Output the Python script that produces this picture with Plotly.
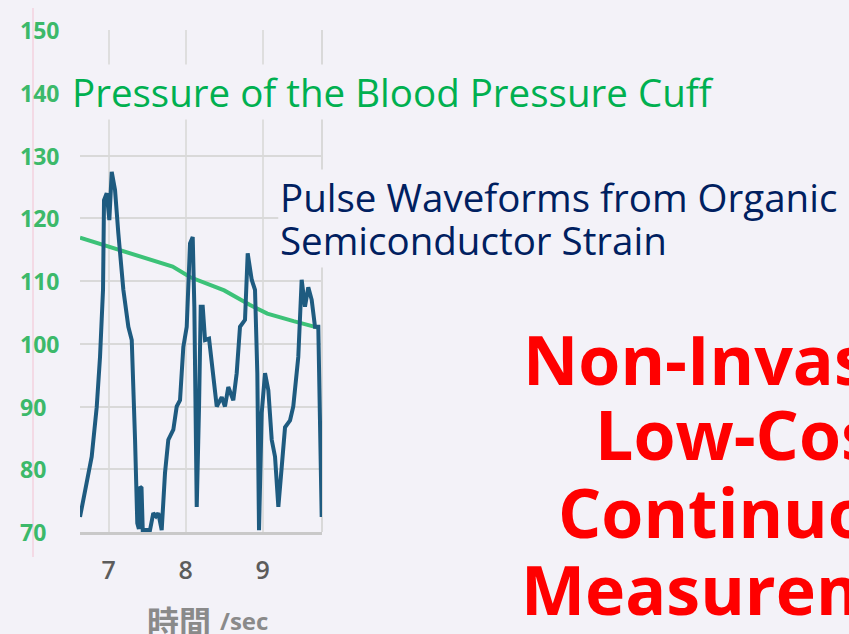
import plotly.graph_objects as go

# ---------------- data ----------------
t_pulse = [6.627, 6.714, 6.779, 6.844, 6.887, 6.926, 6.939, 6.974, 7.008, 7.039,
           7.082, 7.125, 7.190, 7.255, 7.299, 7.342, 7.371, 7.392, 7.406, 7.426,
           7.442, 7.536, 7.579, 7.614, 7.644, 7.688, 7.731, 7.774, 7.839, 7.883,
           7.926, 7.969, 8.013, 8.056, 8.091, 8.112, 8.143, 8.173, 8.195, 8.221,
           8.251, 8.303, 8.358, 8.403, 8.468, 8.510, 8.553, 8.618, 8.662, 8.705,
           8.770, 8.805, 8.857, 8.900, 8.930, 8.952, 8.987, 9.030, 9.073, 9.117,
           9.160, 9.203, 9.247, 9.290, 9.355, 9.397, 9.462, 9.506, 9.549, 9.592,
           9.636, 9.679, 9.722, 9.766]
v_pulse = [72.4, 78.3, 82.0, 89.9, 97.9, 108.6, 122.9, 124.0, 119.7, 127.4,
           124.5, 117.6, 108.6, 102.7, 100.6, 84.7, 71.4, 70.5, 77.2, 77.0,
           70.3, 70.3, 73.0, 72.5, 73.0, 70.3, 79.4, 84.7, 86.3, 90.0,
           91.0, 99.5, 102.7, 116.0, 117.0, 105.9, 74.0, 90.0, 105.9, 105.9,
           100.6, 100.8, 94.2, 90.0, 91.5, 90.0, 93.1, 91.0, 95.3, 102.7,
           103.8, 114.4, 110.2, 108.6, 95.3, 70.3, 89.0, 95.3, 92.6, 84.7,
           82.0, 74.0, 80.4, 86.7, 87.8, 90.0, 97.9, 110.2, 105.9, 109.0,
           107.0, 102.7, 102.7, 72.4]

t_cuff = [6.627, 7.36, 7.83, 8.06, 8.50, 8.83, 9.06, 9.40, 9.74]
v_cuff = [116.9, 114.0, 112.3, 110.6, 108.5, 106.2, 104.8, 103.6, 102.5]

y_ticks = [70, 80, 90, 100, 110, 120, 130, 140, 150]
x_ticks = [7, 8, 9]
x_title_cjk = "時間"
x_title_unit = "/sec"

cuff_label = "Pressure of the Blood Pressure Cuff"
pulse_label = ["Pulse Waveforms from Organic", "Semiconductor Strain"]
headline = ["Non-Invasive", "Low-Cost", "Continuous", "Measurement"]

# ---------------- layout geometry ----------------
W, H = 849, 634
L, R, T, B = 80, 527, 30, 102
PW, PH = W - L - R, H - T - B


def fx(p):
    return (p - L) / PW


def fy(p):
    return (H - B - p) / PH


BG = "#f3f2f8"

fig = go.Figure()
fig.add_trace(go.Scatter(x=t_cuff, y=v_cuff, mode="lines",
                         line=dict(color="#3cc278", width=4), showlegend=False))
fig.add_trace(go.Scatter(x=t_pulse, y=v_pulse, mode="lines",
                         line=dict(color="#1e5b80", width=4), showlegend=False))

fig.update_layout(
    width=W, height=H,
    margin=dict(l=L, r=R, t=T, b=B, pad=0),
    paper_bgcolor=BG, plot_bgcolor=BG,
    xaxis=dict(range=[6.627, 9.770], tickvals=x_ticks, ticktext=[str(v) for v in x_ticks],
               showgrid=True, gridcolor="#dedede", gridwidth=2, zeroline=False,
               showline=True, linecolor="#c9c9c9", linewidth=3,
               ticks="", ticklabelstandoff=14,
               tickfont=dict(family="Open Sans", size=25, color="#5c5c5c", weight=600)),
    yaxis=dict(range=[70, 150], tickvals=y_ticks, showticklabels=False,
               showgrid=True, gridcolor="#d9d9d9", gridwidth=2, zeroline=False,
               showline=False, ticks=""),
)

annotations = []
for v in y_ticks:
    annotations.append(dict(x=fx(18), xref="paper", y=v, yref="y", text=str(v),
                            showarrow=False, xanchor="left", yanchor="middle",
                            font=dict(family="Open Sans", size=23, color="#3cb96a", weight="bold")))

annotations.append(dict(x=fx(70), xref="paper", y=fy(92), yref="paper", text=cuff_label,
                        showarrow=False, xanchor="left", yanchor="middle", bgcolor=BG,
                        font=dict(family="Open Sans", size=38.5, color="#00b050")))
for i, (txt, cy) in enumerate(zip(pulse_label, [197, 240])):
    annotations.append(dict(x=fx(278), xref="paper", y=fy(cy), yref="paper", text=txt,
                            showarrow=False, xanchor="left", yanchor="middle", bgcolor=BG,
                            font=dict(family="Open Sans", size=38.5, color="#002060")))
for txt, lx, cy in zip(headline, [521, 593, 556, 519], [358.6, 433.6, 511.6, 588.6]):
    annotations.append(dict(x=fx(lx), xref="paper", y=fy(cy), yref="paper", text=txt,
                            showarrow=False, xanchor="left", yanchor="middle",
                            font=dict(family="Open Sans", size=68, color="#ff0000", weight="bold")))

annotations.append(dict(x=fx(213), xref="paper", y=fy(620), yref="paper", text=x_title_cjk,
                        showarrow=False, xanchor="right", yanchor="middle",
                        font=dict(family="Noto Sans CJK JP", size=32, color="#8a8a8a", weight="bold")))
annotations.append(dict(x=fx(218), xref="paper", y=fy(620), yref="paper", text=x_title_unit,
                        showarrow=False, xanchor="left", yanchor="middle",
                        font=dict(family="Open Sans", size=24, color="#8a8a8a", weight="bold")))
fig.update_layout(annotations=annotations)

fig.add_shape(type="line", xref="paper", yref="paper", x0=1, x1=1, y0=0, y1=1,
              line=dict(color="#d9d9d9", width=2), layer="below")
fig.add_shape(type="line", xref="paper", yref="paper", x0=fx(33), x1=fx(33),
              y0=fy(8), y1=fy(557), line=dict(color="rgba(240,150,175,0.35)", width=1.5),
              layer="below")

fig.write_html("out.html", config={"displayModeBar": False},
               post_script="document.body.style.margin='0';")
